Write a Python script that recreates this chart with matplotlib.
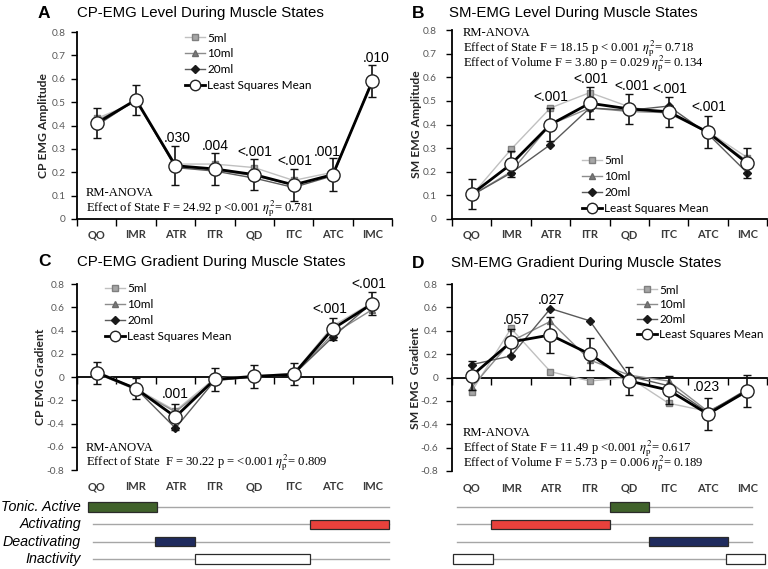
import numpy as np
import matplotlib
matplotlib.use("Agg")
import matplotlib.pyplot as plt
from matplotlib.lines import Line2D
from matplotlib.patches import Rectangle
from matplotlib.transforms import blended_transform_factory

plt.rcParams["mathtext.fontset"] = "stix"

W, H = 768, 569

states = ["QO", "IMR", "ATR", "ITR", "QD", "ITC", "ATC", "IMC"]
volumes = ["5ml", "10ml", "20ml"]

# A: CP-EMG level
cp_level_5ml = [0.43, 0.50, 0.235, 0.235, 0.22, 0.165, 0.20, 0.58]
cp_level_10ml = [0.42, 0.505, 0.225, 0.21, 0.185, 0.145, 0.19, 0.59]
cp_level_20ml = [0.40, 0.51, 0.22, 0.205, 0.175, 0.135, 0.185, 0.595]
cp_level_lsm = [0.41, 0.51, 0.228, 0.214, 0.19, 0.146, 0.19, 0.59]
cp_level_err = [0.065, 0.065, 0.083, 0.067, 0.065, 0.068, 0.07, 0.07]
cp_level_p = ["", "", ".030", ".004", "<.001", "<.001", ".001", ".010"]

# B: SM-EMG level
sm_level_5ml = [0.10, 0.295, 0.47, 0.535, 0.475, 0.445, 0.37, 0.26]
sm_level_10ml = [0.10, 0.20, 0.40, 0.47, 0.455, 0.45, 0.365, 0.245]
sm_level_20ml = [0.10, 0.195, 0.315, 0.47, 0.46, 0.478, 0.36, 0.195]
sm_level_lsm = [0.105, 0.232, 0.40, 0.49, 0.466, 0.454, 0.367, 0.236]
sm_level_err = [0.063, 0.055, 0.068, 0.067, 0.065, 0.064, 0.068, 0.064]
sm_level_p = ["", "", "<.001", "<.001", "<.001", "<.001", "<.001", ""]

# C: CP-EMG gradient
cp_grad_5ml = [0.05, -0.10, -0.29, -0.01, 0.01, 0.03, 0.44, 0.64]
cp_grad_10ml = [0.03, -0.11, -0.30, -0.03, 0.00, 0.02, 0.37, 0.58]
cp_grad_20ml = [0.04, -0.10, -0.44, -0.03, 0.00, 0.02, 0.345, 0.64]
cp_grad_lsm = [0.038, -0.10, -0.343, -0.02, 0.005, 0.023, 0.415, 0.63]
cp_grad_err = [0.095, 0.093, 0.114, 0.10, 0.10, 0.095, 0.093, 0.10]
cp_grad_p = ["", "", ".001", "", "", "", "<.001", "<.001"]

# D: SM-EMG gradient
sm_grad_5ml = [-0.12, 0.42, 0.05, -0.03, 0.0, -0.22, -0.29, -0.13]
sm_grad_10ml = [-0.085, 0.31, 0.48, 0.15, 0.02, -0.03, -0.29, -0.12]
sm_grad_20ml = [0.11, 0.185, 0.59, 0.485, 0.01, -0.07, -0.30, -0.10]
sm_grad_lsm = [0.014, 0.304, 0.364, 0.20, -0.03, -0.108, -0.313, -0.114]
sm_grad_err = [0.125, 0.11, 0.155, 0.135, 0.12, 0.12, 0.135, 0.135]
sm_grad_p = ["", ".057", ".027", "", "", "", ".023", ""]

# muscle state timelines (in state-axis units)
row_labels = ["Tonic. Active", "Activating", "Deactivating", "Inactivity"]
cp_spans = [[(0.78, 2.53)], [(6.42, 8.42)], [(2.48, 3.5)], [(3.5, 6.42)]]
cp_track = (0.91, 8.42)
sm_spans = [[(4.5, 5.5)], [(1.5, 4.5)], [(5.5, 7.5)], [(0.52, 1.53), (7.45, 8.45)]]
sm_track = (0.63, 8.12)
row_colors = ["#40622b", "#e8413c", "#1f2b5e", "#ffffff"]

level_ticks = [0, 0.1, 0.2, 0.3, 0.4, 0.5, 0.6, 0.7, 0.8]
grad_ticks = [-0.8, -0.6, -0.4, -0.2, 0, 0.2, 0.4, 0.6, 0.8]

fig = plt.figure(figsize=(W / 100, H / 100), dpi=100)
fig.patch.set_facecolor("white")

sans = "Liberation Sans"
serif = "Liberation Serif"
ui = "Lato"

vol_styles = [
    dict(color="#c0c0c0", marker="s", ms=4.5, mfc="#a6a6a6", mec="#7f7f7f", lw=1.0),
    dict(color="#8c8c8c", marker="^", ms=4.5, mfc="#7a7a7a", mec="#6a6a6a", lw=1.0),
    dict(color="#5a5a5a", marker="D", ms=3.8, mfc="#1a1a1a", mec="#1a1a1a", lw=1.0),
]
lsm_style = dict(color="black", lw=2.0, marker="o", mfc="white", mec="#222222", mew=1.0)


def px_axes(left, top, bottom, width=315):
    return fig.add_axes([left / W, 1 - bottom / H, width / W, (bottom - top) / H])


def draw_panel(ax, series, lsm, err, pvals, poffs, yticks, ylabel, tickpad, label_x,
               zero_axis, label_off, leg_pos, leg_spacing):
    x = np.arange(1, len(states) + 1)
    for s, st in zip(series, vol_styles):
        ax.plot(x, s, zorder=3, **st)
    ax.errorbar(x, lsm, yerr=err, ms=9.5, capsize=3, elinewidth=1.2, capthick=1.2,
                ecolor="#111111", zorder=5, **lsm_style)

    ax.set_xlim(0.5, 8.5)
    ax.set_ylim(yticks[0], yticks[-1])
    ax.set_yticks(yticks)
    ax.set_yticklabels([f"{v:g}" for v in yticks], fontsize=7.3, family=ui, color="#595959")
    ax.set_xticks(np.arange(0.5, 9, 1))
    ax.set_xticklabels([])
    ax.tick_params(axis="y", length=4, width=1, pad=tickpad)
    ax.tick_params(axis="x", length=5, width=1)
    for side in ["top", "right"]:
        ax.spines[side].set_visible(False)
    for side in ["left", "bottom"]:
        ax.spines[side].set_linewidth(1.3)
    if zero_axis:
        ax.spines["bottom"].set_position(("data", 0))
    ax.patch.set_alpha(0)

    ax.set_ylabel(ylabel, fontsize=8.7, family=ui, fontweight="bold", color="#262626")
    ax.yaxis.set_label_coords(label_x / 315, 0.5)

    tr = blended_transform_factory(ax.transData, ax.transAxes)
    for i, s in enumerate(states):
        ax.text(i + 1, -label_off, s, transform=tr, ha="center", va="center",
                fontsize=8, family=ui, fontweight="bold", color="#3a3a3a")

    for i, p in enumerate(pvals):
        if not p:
            continue
        dx, dy = poffs[i]
        ax.annotate(p, xy=(i + 1, lsm[i] + err[i]), xytext=(dx, dy),
                    textcoords="offset pixels", ha="center", va="center",
                    fontsize=10, family=sans, annotation_clip=False)

    handles = [Line2D([], [], **st) for st in vol_styles]
    handles.append(Line2D([], [], ms=7.5, **lsm_style))
    lx, ly = leg_pos
    ax.legend(handles, volumes + ["Least Squares Mean"], loc="upper left",
              bbox_to_anchor=(lx / W, 1 - ly / H), bbox_transform=fig.transFigure,
              frameon=False, borderaxespad=0, borderpad=0, handlelength=1.7,
              handletextpad=0.2, labelspacing=leg_spacing, numpoints=1,
              prop=dict(family=ui, size=8.5))


def fig_text(x, y, s, **kw):
    fig.text(x / W, 1 - y / H, s, va="center", **kw)


eta = r"$\eta_{\rm p}^{2}$"

# A
axA = px_axes(77, 32, 219)
draw_panel(axA, [cp_level_5ml, cp_level_10ml, cp_level_20ml], cp_level_lsm, cp_level_err,
           cp_level_p, {2: (2, 8), 3: (0, 7.5), 4: (1, 7.5), 5: (1, 7.5), 6: (-5.5, 6.5), 7: (4, 7)},
           level_ticks, "CP EMG Amplitude", 4, -28, False, 16 / 187, (185, 32.5), 0.42)
# B
axB = px_axes(452, 30, 219)
draw_panel(axB, [sm_level_5ml, sm_level_10ml, sm_level_20ml], sm_level_lsm, sm_level_err,
           sm_level_p, {2: (0, 11.5), 3: (1, 8), 4: (3, 7.5), 5: (1, 8), 6: (1, 9)},
           level_ticks, "SM EMG Amplitude", 7, -30, False, 16 / 189, (582, 155), 0.42)
# C
axC = px_axes(77, 284, 470)
draw_panel(axC, [cp_grad_5ml, cp_grad_10ml, cp_grad_20ml], cp_grad_lsm, cp_grad_err,
           cp_grad_p, {2: (0, 9.5), 6: (-3, 9), 7: (-4, 8)},
           grad_ticks, "CP EMG Gradient", 5, -31, True, 17 / 186, (105, 283.5), 0.42)
# D
axD = px_axes(452, 284, 471)
draw_panel(axD, [sm_grad_5ml, sm_grad_10ml, sm_grad_20ml], sm_grad_lsm, sm_grad_err,
           sm_grad_p, {1: (5, 9), 2: (1, 17), 6: (-2, 11)},
           grad_ticks, "SM EMG  Gradient", 6, -31, True, 17 / 187, (637, 284.5), 0.33)

# panel letters and titles
for letter, lx, tx, ty, title in [
    ("A", 38, 77, 13, "CP-EMG Level During Muscle States"),
    ("B", 412, 449, 13, "SM-EMG Level During Muscle States"),
    ("C", 38, 77, 262, "CP-EMG Gradient During Muscle States"),
    ("D", 412, 451, 263, "SM-EMG Gradient During Muscle States"),
]:
    fig_text(lx, ty, letter, fontsize=12.5, fontweight="bold", family=sans)
    fig_text(tx, ty, title, fontsize=10.8, family=sans)

# RM-ANOVA statistics
stats = [
    (86, 193.3, "RM-ANOVA"),
    (86, 209, "Effect of State F = 24.92 p <0.001 " + eta + "= 0.781"),
    (463, 33.3, "RM-ANOVA"),
    (463, 48.3, "Effect of State F = 18.15 p < 0.001 " + eta + "= 0.718"),
    (463, 64, "Effect of Volume F = 3.80 p = 0.029 " + eta + "= 0.134"),
    (86, 447.7, "RM-ANOVA"),
    (86, 463, "Effect of State  F = 30.22 p = <0.001 " + eta + "= 0.809"),
    (463, 433.3, "RM-ANOVA"),
    (463, 448.3, "Effect of State F = 11.49 p <0.001 " + eta + "= 0.617"),
    (463, 464.2, "Effect of Volume F = 5.73 p = 0.006 " + eta + "= 0.189"),
]
for x, y, s in stats:
    fig_text(x, y, s, fontsize=9.1, family=serif)


# muscle state timelines
def draw_states(left, spans, track, with_labels):
    ax = px_axes(left, 498.3, 567.7)
    ax.set_xlim(0.5, 8.5)
    ax.set_ylim(3.5, -0.5)
    ax.axis("off")
    for r, (row, col) in enumerate(zip(spans, row_colors)):
        ax.plot(track, [r, r], color="#a6a6a6", lw=1.0, zorder=1, clip_on=False)
        for a, b in row:
            ax.add_patch(Rectangle((a, r - 0.27), b - a, 0.54, facecolor=col,
                                   edgecolor="#2a2a2a", lw=0.9, zorder=2, clip_on=False))
        if with_labels:
            ax.text(0.6, r, row_labels[r], ha="right", va="center", fontsize=10.3,
                    family=sans, style="italic", clip_on=False)


draw_states(77, cp_spans, cp_track, True)
draw_states(452, sm_spans, sm_track, False)

fig.savefig("out.png", dpi=100)
